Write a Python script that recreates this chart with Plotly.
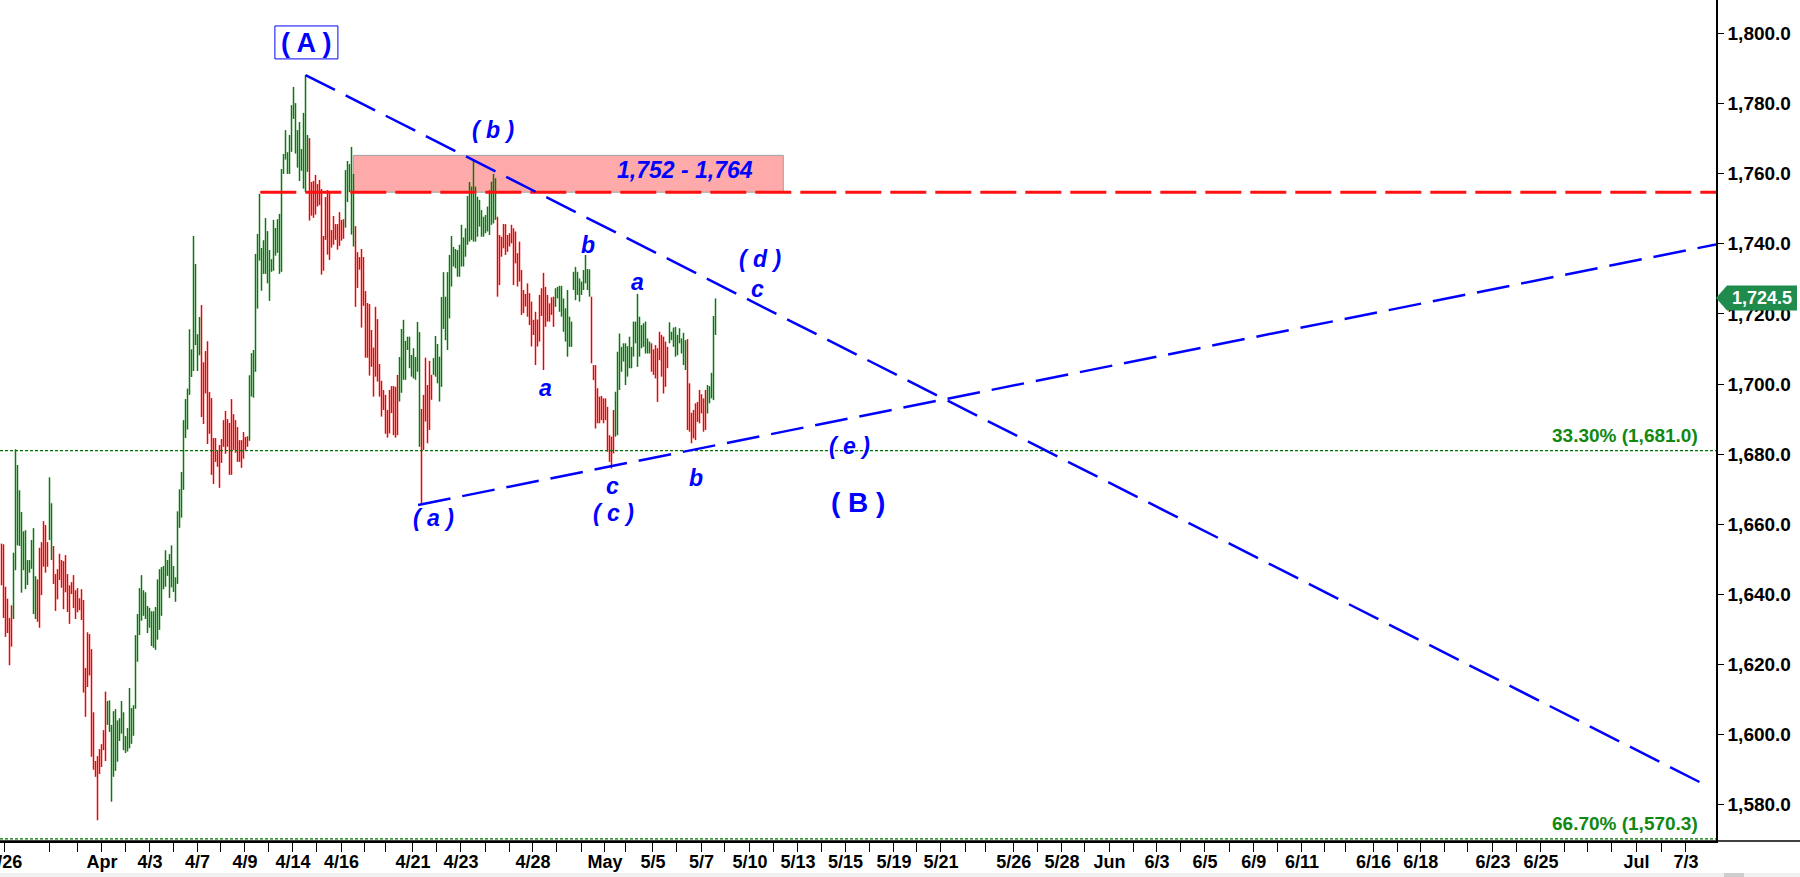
import plotly.graph_objects as go

# ---------------- data ----------------
bar_high = [
1654.5,1654.3,1642.2,1638.8,1633.3,1636.9,1651.9,1681.4,1676.9,1669.7,
1663.5,1658.0,1658.3,1649.8,1649.8,1655.5,1658.9,1645.2,1644.3,1653.3,
1654.9,1660.9,1659.8,1654.9,1673.4,1666.0,1653.8,1645.8,1647.2,1651.6,
1649.8,1649.5,1651.2,1645.8,1642.6,1643.5,1645.5,1641.2,1641.8,1638.9,
1641.5,1638.4,1619.0,1629.2,1628.7,1624.4,1606.4,1592.5,1593.9,1595.9,
1597.3,1601.3,1612.3,1609.6,1609.8,1602.8,1606.7,1607.3,1604.1,1604.7,
1609.6,1606.4,1599.6,1601.9,1613.3,1607.6,1608.4,1628.4,1634.4,1641.8,
1645.5,1641.2,1640.6,1636.7,1636.2,1635.2,1635.2,1636.4,1644.3,1647.2,
1647.8,1648.1,1652.6,1649.8,1651.5,1654.0,1648.1,1644.9,1663.7,1670.0,
1674.9,1689.7,1695.7,1698.7,1715.6,1709.9,1742.2,1734.2,1714.2,1719.1,
1722.5,1706.2,1709.4,1712.2,1697.7,1696.0,1684.6,1684.6,1681.1,1682.6,
1684.3,1689.7,1692.3,1690.0,1688.9,1695.7,1691.4,1689.7,1687.7,1684.0,
1684.0,1686.3,1684.9,1685.1,1702.5,1708.8,1709.7,1737.1,1742.8,1754.2,
1738.8,1741.0,1747.3,1743.6,1738.2,1735.6,1746.8,1744.5,1747.0,1748.5,
1761.3,1765.6,1772.4,1766.1,1771.0,1779.5,1784.7,1780.1,1772.4,1774.7,
1767.0,1777.3,1788.1,1771.0,1770.1,1757.6,1757.9,1759.6,1757.0,1758.2,
1755.6,1742.2,1753.3,1755.3,1754.5,1743.9,1747.9,1745.6,1745.6,1749.0,
1746.8,1747.0,1761.0,1763.6,1762.7,1767.6,1759.9,1745.0,1737.6,1736.2,
1738.5,1736.2,1726.5,1723.1,1722.8,1715.4,1710.4,1722.0,1718.5,1705.7,
1700.9,1698.3,1696.9,1692.6,1698.3,1699.4,1699.4,1699.2,1702.6,1707.7,
1715.7,1718.3,1712.3,1713.5,1713.5,1708.3,1710.2,1707.7,1717.7,1714.8,
1692.9,1696.9,1707.5,1699.7,1706.6,1702.6,1707.4,1713.7,1711.4,1707.8,
1724.8,1731.9,1724.9,1731.9,1736.8,1742.2,1739.1,1738.5,1738.2,1739.7,
1745.4,1741.8,1744.4,1753.6,1757.6,1756.3,1763.9,1756.3,1753.4,1752.5,
1749.6,1747.7,1748.2,1750.6,1755.3,1757.7,1759.9,1758.7,1747.7,1742.5,
1742.0,1745.6,1745.6,1742.5,1743.0,1745.4,1744.4,1743.5,1737.3,1740.6,
1732.5,1726.8,1725.7,1728.7,1725.9,1723.5,1718.3,1720.6,1718.4,1725.4,
1727.3,1731.7,1727.7,1725.4,1723.0,1724.7,1724.9,1727.3,1727.7,1728.0,
1728.0,1724.4,1721.6,1726.8,1719.2,1717.8,1732.0,1733.4,1732.0,1730.1,
1729.2,1732.5,1736.8,1732.8,1732.7,1724.9,1705.4,1705.4,1698.8,1696.4,
1696.6,1695.9,1695.9,1693.5,1685.4,1685.0,1692.6,1697.8,1709.2,1714.4,
1710.6,1711.6,1711.6,1710.8,1713.5,1710.6,1717.8,1717.8,1725.7,1719.2,
1716.8,1717.3,1717.8,1713.0,1712.1,1711.6,1709.9,1711.1,1710.2,1714.9,
1714.0,1713.5,1712.1,1710.6,1717.6,1714.9,1716.1,1716.3,1714.0,1715.9,
1713.0,1714.6,1712.5,1712.8,1700.2,1691.8,1692.6,1694.5,1694.9,1698.3,
1697.1,1695.9,1698.3,1699.7,1699.4,1703.2,1719.4,1724.4,
]
bar_low = [
1642.6,1633.3,1627.9,1629.0,1619.8,1625.1,1633.0,1646.9,1654.0,1653.8,
1640.5,1646.9,1641.5,1642.7,1646.2,1647.3,1634.4,1633.0,1632.2,1630.5,
1639.8,1647.9,1646.2,1647.9,1655.5,1649.8,1643.0,1635.3,1638.6,1644.1,
1641.9,1635.8,1640.6,1635.0,1631.6,1640.1,1636.1,1633.0,1634.9,1635.5,
1632.7,1612.0,1605.1,1613.6,1616.9,1593.7,1590.0,1588.0,1575.6,1588.8,
1590.8,1595.6,1592.5,1602.8,1600.8,1580.9,1588.0,1589.7,1592.3,1598.2,
1600.3,1595.6,1594.8,1595.2,1596.1,1597.4,1599.7,1607.4,1620.8,1628.4,
1632.5,1633.9,1633.0,1629.0,1630.5,1625.3,1624.8,1624.2,1627.1,1629.9,
1633.9,1641.5,1642.2,1645.3,1639.0,1642.0,1640.7,1637.9,1643.0,1659.0,
1661.9,1669.8,1684.6,1687.0,1696.9,1702.0,1703.7,1711.1,1703.7,1708.2,
1690.6,1688.6,1697.3,1682.9,1685.8,1674.1,1671.5,1677.8,1676.4,1670.4,
1677.5,1682.1,1680.1,1682.1,1674.1,1674.1,1681.2,1680.4,1677.8,1677.8,
1676.1,1678.7,1681.2,1682.1,1683.8,1696.4,1696.1,1703.5,1721.5,1735.2,
1726.6,1731.4,1731.4,1728.7,1723.7,1732.0,1732.3,1736.6,1737.4,1731.4,
1732.0,1759.9,1764.0,1759.9,1759.9,1766.2,1775.6,1765.7,1761.7,1757.9,
1760.8,1755.7,1754.7,1760.5,1746.6,1748.0,1747.4,1748.3,1750.6,1751.0,
1731.2,1732.3,1741.1,1736.9,1735.4,1738.9,1739.7,1741.1,1738.3,1739.4,
1740.9,1741.4,1744.6,1751.9,1754.7,1742.6,1739.2,1722.0,1727.4,1732.6,
1716.1,1722.3,1707.5,1707.5,1702.4,1704.9,1696.4,1702.1,1700.7,1696.4,
1690.7,1692.6,1685.8,1684.7,1685.9,1691.7,1685.4,1684.7,1685.4,1695.0,
1697.5,1701.2,1701.2,1709.7,1704.5,1702.1,1701.6,1701.2,1703.5,1682.1,
1666.0,1681.2,1689.3,1683.1,1686.9,1695.5,1702.6,1702.1,1700.2,1695.0,
1699.2,1715.7,1712.5,1709.7,1718.7,1727.8,1733.5,1733.0,1730.6,1730.6,
1733.5,1733.5,1736.3,1739.7,1740.6,1741.1,1740.6,1740.6,1742.0,1744.9,
1742.0,1742.0,1743.0,1743.5,1742.5,1745.4,1745.8,1746.8,1724.9,1728.2,
1736.3,1738.7,1736.8,1737.7,1739.2,1740.1,1728.2,1734.4,1727.8,1729.2,
1719.7,1720.2,1722.1,1719.2,1716.8,1710.7,1714.0,1705.4,1710.7,1712.1,
1719.4,1704.0,1716.3,1717.8,1717.8,1719.7,1716.3,1722.0,1724.4,1720.6,
1719.2,1714.9,1712.1,1707.8,1710.6,1710.6,1726.8,1723.9,1725.4,1723.5,
1725.4,1726.8,1728.7,1726.8,1724.9,1705.9,1701.1,1687.3,1688.8,1688.8,
1689.7,1688.8,1689.7,1680.7,1677.8,1675.9,1680.2,1685.0,1685.4,1698.3,
1703.5,1706.4,1699.7,1702.1,1704.5,1704.5,1707.8,1711.6,1704.9,1707.8,
1710.2,1710.6,1708.7,1708.7,1708.7,1703.5,1702.6,1701.6,1694.9,1706.8,
1702.1,1697.3,1699.2,1704.5,1711.6,1712.5,1710.6,1707.8,1708.2,1711.6,
1708.7,1705.4,1704.0,1686.9,1686.4,1683.1,1684.5,1684.0,1689.2,1688.8,
1691.6,1686.4,1686.9,1691.6,1694.5,1695.9,1695.4,1714.0,
]
# bar direction: R = down bar (red), G = up bar (green)
bar_dir = (
"RRRRRR" "GGGGGGGGGGGG" "RRRRRR" "GG"
"RRRRRRRRRRRRRRRRRRRRRRRRRRR"
"GGGGGGGGGGGGGGGGGGGGGGGGGGGGGGGGGGGGGGGGGGGGGGG"
"RRRRRRRRRRRRRRRRRRRRRRRR"
"GGGGGGGGGGGGGGGGGGGGGGGGGGGGGG"
"RRRRRRRRRRRRRRRRRR" "GGGGG"
"RRRRRRRRRRRRRRRRRRRRRR" "GGGGGGGGGGG" "RRRRRR"
"GGGGGGGGGGGGGGGGGGGGGGGGGGGGGGGG"
"RRRRRRRRRRRRRRRRRRRRRRRRRRRRR"
"GGGGGGGGGGGGGGGGGG" "RRRRRRRRRRRR" "GGGGGGGGGGGGGGGGGG"
"RRRRRRRRR" "GGGGGGGGG" "RRRRRRRRRR" "GGGGG"
)
last_price = 1724.5

# x axis: bar-slot index; day ticks (label '' = unlabeled tick)
tick_pos = [1.6, 24.2, 38.2, 50.2, 62.2, 74.2, 86.2, 98.0, 109.7, 121.7, 133.7, 145.7,
            157.7, 170.0, 181.7, 192.2, 205.7, 217.7, 229.7, 242.0, 254.2, 265.7, 277.7,
            290.0, 301.7, 312.2, 325.7, 337.7, 350.0, 361.7, 374.2, 386.2, 398.2, 410.2,
            422.0, 434.2, 446.2, 457.7, 469.7, 482.2, 492.2, 506.1, 518.2, 530.2, 541.7,
            554.0, 566.0, 577.7, 589.7, 601.7, 614.0, 626.1, 638.1, 650.2, 661.7, 672.2,
            686.0, 698.1, 709.6, 721.7, 733.2, 745.7, 757.7, 769.7, 781.7, 793.2, 805.2,
            817.5, 830.1, 842.2]
tick_lbl = ["3/26", "", "", "Apr", "", "4/3", "", "4/7", "", "4/9", "", "4/14",
            "", "4/16", "", "", "4/21", "", "4/23", "", "", "4/28", "",
            "", "May", "", "5/5", "", "5/7", "", "5/10", "", "5/13", "",
            "5/15", "", "5/19", "", "5/21", "", "", "5/26", "", "5/28", "",
            "Jun", "", "6/3", "", "6/5", "", "6/9", "", "6/11", "", "",
            "6/16", "", "6/18", "", "", "6/23", "", "6/25", "", "", "",
            "Jul", "", "7/3"]

# analysis overlays
fib_level = [1681.0, 1570.3]
fib_text = ["33.30% (1,681.0)", "66.70% (1,570.3)"]
resist_level = 1754.7
zone_range = [1754.7, 1765.2]
zone_x = [175.9, 390.9]
zone_text = "1,752 - 1,764"
upper_tl_x = [152.0, 853.2]
upper_tl_y = [1788.1, 1585.3]
lower_tl_x = [208.3, 857.25]
lower_tl_y = [1665.5, 1739.8]

wave_text = ["( b )", "b", "( d )", "c", "a", "a", "c", "( c )", "b", "( a )", "( e )"]
wave_x = [245.7, 293.2, 379.2, 378.1, 272.1, 317.9, 305.4, 305.9, 347.2, 215.9, 424.0]
wave_y = [1772.5, 1739.7, 1735.7, 1727.1, 1698.9, 1729.2, 1670.9, 1663.3, 1673.3, 1661.7, 1682.2]
big_text = ["( A )", "( B )"]
big_x = [152.2, 428.0]
big_y = [1797.2, 1666.1]

X_RANGE = [-0.75, 857.25]
Y_RANGE = [1569.69, 1809.5]
RED = "#f00000"
GREEN = "#0a780a"
BLUE = "#0000ff"
FONT = "Liberation Sans, Arial, sans-serif"

fig = go.Figure()

# pink resistance zone (behind bars)
fig.add_shape(type="rect", xref="x", yref="y", x0=zone_x[0], x1=zone_x[1],
              y0=zone_range[0], y1=zone_range[1], layer="below",
              fillcolor="#ffaaaa", line=dict(color="#a0a0a0", width=1))

# price bars
for d, col in (("R", RED), ("G", GREEN)):
    xs, ys = [], []
    for k, (h, l, dd) in enumerate(zip(bar_high, bar_low, bar_dir)):
        if dd == d:
            xs += [k, k, None]
            ys += [l, h, None]
    fig.add_trace(go.Scatter(x=xs, y=ys, mode="lines", line=dict(color=col, width=1.5),
                             hoverinfo="skip", showlegend=False))

# fib dotted lines
for lv in fib_level:
    fig.add_trace(go.Scatter(x=X_RANGE, y=[lv, lv], mode="lines",
                             line=dict(color="#007000", width=1.2, dash="3px,2px"),
                             hoverinfo="skip", showlegend=False, cliponaxis=False))

# red resistance dashed line
fig.add_trace(go.Scatter(x=[zone_x[0] - 46.5, X_RANGE[1]], y=[resist_level, resist_level], mode="lines",
                         line=dict(color="#ff1010", width=3, dash="36px,9px"),
                         hoverinfo="skip", showlegend=False))

# triangle trend lines
fig.add_trace(go.Scatter(x=upper_tl_x, y=upper_tl_y, mode="lines",
                         line=dict(color=BLUE, width=2.5, dash="33px,12px"),
                         hoverinfo="skip", showlegend=False))
fig.add_trace(go.Scatter(x=lower_tl_x, y=lower_tl_y, mode="lines",
                         line=dict(color=BLUE, width=2.5, dash="33px,12px"),
                         hoverinfo="skip", showlegend=False))

# zone label
fig.add_annotation(x=341.7, y=1761.0, text="<b><i>" + zone_text + "</i></b>", showarrow=False,
                   font=dict(family=FONT, size=23, color=BLUE))

# wave labels
for t, x, y in zip(wave_text, wave_x, wave_y):
    fig.add_annotation(x=x, y=y, text="<b><i>" + t + "</i></b>", showarrow=False,
                       font=dict(family=FONT, size=23, color=BLUE))
for t, x, y, s in zip(big_text, big_x, big_y, [27, 28]):
    fig.add_annotation(x=x, y=y, text="<b>" + t + "</b>", showarrow=False,
                       font=dict(family=FONT, size=s, color=BLUE))
# box around (A)
fig.add_shape(type="rect", xref="x", yref="y", x0=136.7, x1=168.2, y0=1792.7, y1=1802.1,
              line=dict(color=BLUE, width=1), fillcolor="rgba(0,0,0,0)")

# fib labels
for lv, t in zip(fib_level, fib_text):
    fig.add_annotation(x=849.0, y=lv, yshift=15, xanchor="right", text="<b>" + t + "</b>",
                       showarrow=False, font=dict(family=FONT, size=19, color="#118811"))

# last price tag
ypx = lambda v: (v - Y_RANGE[0]) / (Y_RANGE[1] - Y_RANGE[0])
W = 1716.0
half = 12.5 / 841.0
yc = ypx(last_price)
fig.add_shape(type="path", xref="paper", yref="paper",
              path=f"M {1716/W} {yc} L {1727/W} {yc+half} L {1797/W} {yc+half} L {1797/W} {yc-half} L {1727/W} {yc-half} Z",
              fillcolor="#1f8b4c", line=dict(width=0))
fig.add_annotation(xref="paper", yref="paper", x=1762/W, y=yc, xanchor="center", yanchor="middle",
                   text="<b>1,724.5</b>", showarrow=False,
                   font=dict(family=FONT, size=18, color="white"))

# bottom axis line running under the price scale, and grey strip
fig.add_shape(type="line", xref="paper", yref="paper", x0=0, x1=1800/W, y0=0, y1=0,
              line=dict(color="black", width=1.5))
fig.add_shape(type="rect", xref="paper", yref="paper", x0=0, x1=1800/W, y0=-(873-841)/841, y1=-(880-841)/841,
              fillcolor="#f0f0f0", line=dict(width=0))
fig.add_shape(type="rect", xref="paper", yref="paper", x0=1724/W, x1=1744/W, y0=-(873-841)/841, y1=-(880-841)/841,
              fillcolor="#cdcdcd", line=dict(width=0))

fig.update_layout(
    width=1800, height=877,
    margin=dict(l=0, r=84, t=0, b=36, autoexpand=False),
    paper_bgcolor="white", plot_bgcolor="white",
    showlegend=False,
    xaxis=dict(range=X_RANGE, showgrid=False, zeroline=False, showline=True, linecolor="black",
               linewidth=1.5, ticks="outside", ticklen=9, tickcolor="black", tickwidth=1,
               tickmode="array", tickvals=tick_pos, ticktext=tick_lbl, automargin=False,
               ticklabeloverflow="allow", ticklabelstandoff=-5,
               tickfont=dict(family=FONT, size=18, color="black", weight="bold")),
    yaxis=dict(range=Y_RANGE, side="right", showgrid=False, zeroline=False, showline=True,
               linecolor="black", linewidth=1.5, ticks="outside", ticklen=6, tickcolor="black",
               tickmode="array", tickvals=[1580, 1600, 1620, 1640, 1660, 1680, 1700, 1720, 1740, 1760, 1780, 1800],
               tickformat=",.1f", automargin=False, ticklabeloverflow="allow",
               tickfont=dict(family=FONT, size=19, color="black", weight="bold")),
)

fig.write_html("out.html", config={"displayModeBar": False},
               post_script="document.body.style.margin='0px';document.body.style.overflow='hidden';")
